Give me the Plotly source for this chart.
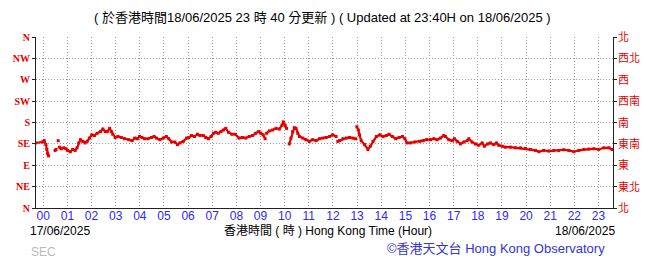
import plotly.graph_objects as go

# Time in hours (relative to 18/06/2025 00:00), None marks a data gap
hours = [-0.33, -0.03, 0.04, 0.11, 0.15, 0.18, 0.22, None,
         0.49, 0.53, None,
         0.62, None,
         0.67, 0.74, 0.85, 0.94, 1.01, 1.12, 1.22, 1.32, 1.40, 1.47, 1.54, 1.64, 1.73, 1.82, 1.91,
         2.01, 2.12, 2.23, 2.37, 2.47, 2.57, 2.65, 2.75, 2.82, 2.88, 2.98, 3.09, 3.23, 3.37, 3.54,
         3.68, 3.79, 3.90, 3.99, 4.09, 4.20, 4.34, 4.48, 4.59, 4.69, 4.83, 4.97, 5.10, 5.20, 5.31,
         5.45, 5.56, 5.66, 5.80, 5.94, 6.03, 6.14, 6.26, 6.39, 6.49, 6.63, 6.73, 6.84, 6.95, 7.05,
         7.14, 7.25, 7.36, 7.46, 7.56, 7.67, 7.81, 7.95, 8.11, 8.25, 8.39, 8.53, 8.67, 8.80, 8.92,
         9.01, 9.11, 9.19, None,
         9.25, 9.36, 9.50, 9.64, 9.78, 9.89, 9.94, 10.02, 10.08, None,
         10.19, 10.26, 10.33, 10.40, 10.47, 10.54, 10.61, 10.75, 10.88, 11.02, 11.16, 11.30, 11.44,
         11.58, 11.72, 11.86, 11.99, 12.13, None,
         12.20, 12.27, 12.41, 12.55, 12.69, 12.83, 12.94, None,
         12.99, 13.05, 13.10, 13.17, 13.31, 13.45, 13.55, 13.66, 13.80, 13.94, 14.07, 14.21, 14.32,
         14.46, 14.60, 14.74, 14.88, 14.98, 15.07, 15.21, 15.39, 15.60, 15.74, 15.88, 16.04, 16.18,
         16.31, 16.45, 16.59, 16.66, 16.80, 16.94, 17.03, 17.14, 17.28, 17.42, 17.56, 17.63, 17.76,
         17.90, 18.04, 18.18, 18.27, 18.41, 18.52, 18.66, 18.77, 18.87, 19.01, 19.14, 19.35, 19.56,
         19.77, 19.97, 20.18, 20.39, 20.53, 20.73, 20.94, 21.15, 21.35, 21.56, 21.77, 21.98, 22.18,
         22.39, 22.60, 22.81, 23.01, 23.22, 23.43, 23.56, 23.66]

# Wind direction in degrees
directions = [137, 139, 141.7, 133.5, 123.3, 114.4, 109.7, None,
              121.2, 123.3, None,
              141.7, None,
              128.1, 124.7, 126.7, 124.7, 121.2, 118.5, 123.3, 121.2, 126.7, 137, 143.8, 140.3, 137, 140.3, 147.2,
              154, 152.6, 157.4, 160.8, 166.3, 160.8, 160.8, 167.6, 160.8, 155.3, 148.5, 150.6, 148.5, 145.8, 143.8,
              141.7, 147.2, 145.8, 150.6, 148.5, 145.8, 145.8, 148.5, 150.6, 147.2, 143.8, 147.2, 150.6, 145.8, 139,
              139, 133.5, 137, 140.3, 147.2, 148.5, 152.6, 150.6, 155.3, 152.6, 152.6, 148.5, 145.8, 150.6, 157.4,
              159.4, 157.4, 160.8, 164.2, 167.6, 159.4, 155.3, 155.3, 147.2, 148.5, 147.2, 150.6, 152.6, 157.4, 160.8,
              157.4, 154, 145.8, None,
              157.4, 162.2, 164.2, 167.6, 166.3, 174.4, 181.3, 174.4, 167.6, None,
              134.9, 147.2, 160.8, 169, 167.6, 157.4, 150.6, 147.2, 143.8, 140.3, 143.8, 141.7, 145.8,
              147.2, 148.5, 150.6, 154, 150.6, None,
              140.3, 141.7, 145.8, 147.2, 148.5, 147.2, 145.8, None,
              171, 164.2, 154, 141.7, 133.5, 123.3, 130.1, 140.3, 150.6, 154, 150.6, 152.6, 155.3,
              150.6, 145.8, 148.5, 150.6, 145.8, 137, 137, 139, 140.3, 141.7, 143.8, 143.8, 145.8,
              143.8, 147.2, 152.6, 150.6, 143.8, 141.7, 145.8, 140.3, 134.9, 139, 141.7, 145.8, 139,
              134.9, 132.2, 137, 130.1, 134.9, 137, 133.5, 137, 132.2, 130.1, 128.1, 128.1, 126.7,
              126.7, 125.3, 123.3, 121.2, 118.5, 121.2, 119.9, 121.2, 121.2, 122.6, 121.2, 118.5, 121.2,
              123.3, 124, 124.7, 123.3, 126.7, 126.7, 123.3, 123.3]

hour_ticks = list(range(24))
hour_labels = [f"{h:02d}" for h in hour_ticks]
dir_ticks = [0, 45, 90, 135, 180, 225, 270, 315, 360]
dir_labels_en = ["N", "NE", "E", "SE", "S", "SW", "W", "NW", "N"]
dir_labels_zh = ["北", "東北", "東", "東南", "南", "西南", "西", "西北", "北"]

title_text = "( 於香港時間18/06/2025 23 時 40 分更新 ) ( Updated at 23:40H on 18/06/2025 )"
start_date = "17/06/2025"
end_date = "18/06/2025"
axis_title = "香港時間 ( 時 ) Hong Kong Time (Hour)"
credit = "©香港天文台 Hong Kong Observatory"
source_tag = "SEC"

RED = "#e60000"
FONT = "Liberation Sans, Noto Sans CJK TC, sans-serif"
GRID_DASH = "1px,2px"

fig = go.Figure()
fig.add_trace(go.Scatter(
    x=hours, y=directions, mode="lines+markers",
    line=dict(color=RED, width=2.2),
    marker=dict(color=RED, size=3, symbol="square"),
    connectgaps=False, showlegend=False, hoverinfo="skip",
))

fig.update_layout(
    width=655, height=259,
    margin=dict(l=36, r=42, t=37, b=51),
    paper_bgcolor="white", plot_bgcolor="white",
    font=dict(family=FONT, size=12, color="black"),
    xaxis=dict(
        range=[-0.3, 23.6], tickmode="array", tickvals=hour_ticks, ticktext=hour_labels,
        tickfont=dict(color="#2a2aff", size=12, family=FONT),
        showgrid=True, gridcolor="#9a9a9a", griddash=GRID_DASH, gridwidth=1,
        showline=True, linecolor="#222", linewidth=1, mirror=False,
        ticks="", zeroline=False, ticklabelstandoff=-3,
    ),
    yaxis=dict(
        range=[0, 360], tickmode="array", tickvals=dir_ticks, ticktext=dir_labels_en,
        tickfont=dict(color=RED, size=10, family="Liberation Serif, DejaVu Serif, serif",
                      weight="bold"),
        showgrid=True, gridcolor="#9a9a9a", griddash=GRID_DASH, gridwidth=1,
        showline=True, linecolor="#222", linewidth=1, mirror="ticks",
        ticks="outside", ticklen=3, tickcolor="#222", zeroline=False,
    ),
)

for v, t in zip(dir_ticks, dir_labels_zh):
    fig.add_annotation(x=1, y=v, xref="paper", yref="y", text=t, showarrow=False,
                       xanchor="left", yanchor="middle", xshift=3,
                       font=dict(color=RED, size=11, family=FONT))


def px_x(px):
    return (px - 36) / 577


def px_y(py):
    return (208 - py) / 171


def add_text(px, py, text, anchor, size, color):
    fig.add_annotation(x=px_x(px), y=px_y(py), xref="paper", yref="paper", text=text,
                       showarrow=False, xanchor=anchor, yanchor="middle",
                       font=dict(size=size, color=color))


add_text(322, 18, title_text, "center", 13, "black")
add_text(28, 231, start_date, "left", 12, "black")
add_text(617, 231, end_date, "right", 12, "black")
add_text(328, 231, axis_title, "center", 12, "black")
add_text(607, 248, credit, "right", 13, "#3535d0")
add_text(29, 252, source_tag, "left", 12, "#bbbbbb")

fig.write_html("out.html")
